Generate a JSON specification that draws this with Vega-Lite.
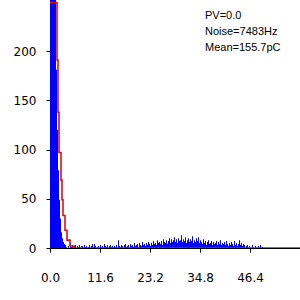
{
  "$schema": "https://vega.github.io/schema/vega-lite/v6.json",
  "width": 250,
  "height": 248,
  "autosize": {"type": "none"},
  "padding": {"left": 50, "top": 0, "right": 0, "bottom": 52},
  "background": "white",
  "config": {
    "view": {"stroke": null},
    "axis": {"grid": false, "labelFont": "DejaVu Sans", "labelFontSize": 12, "labelColor": "#000", "tickColor": "#000", "domainColor": "#000", "tickSize": 4, "title": null}
  },
  "datasets": {
    "hist": [
      {"x": 0, "count": 1000}, {"x": 0.232, "count": 900}, {"x": 0.464, "count": 700}, {"x": 0.696, "count": 500},
      {"x": 0.928, "count": 380}, {"x": 1.16, "count": 290}, {"x": 1.392, "count": 181}, {"x": 1.624, "count": 120},
      {"x": 1.856, "count": 79}, {"x": 2.088, "count": 49}, {"x": 2.32, "count": 30}, {"x": 2.552, "count": 16},
      {"x": 2.784, "count": 10}, {"x": 3.016, "count": 6}, {"x": 3.248, "count": 4}, {"x": 3.48, "count": 3},
      {"x": 3.712, "count": 1},
      {"x": 4.176, "count": 2}, {"x": 4.64, "count": 5}, {"x": 4.872, "count": 1}, {"x": 5.104, "count": 3},
      {"x": 5.568, "count": 2}, {"x": 5.8, "count": 3}, {"x": 6.264, "count": 2}, {"x": 6.496, "count": 1},
      {"x": 6.728, "count": 3}, {"x": 7.192, "count": 2}, {"x": 7.424, "count": 2}, {"x": 7.888, "count": 3},
      {"x": 8.12, "count": 1}, {"x": 8.352, "count": 2}, {"x": 8.816, "count": 1}, {"x": 9.048, "count": 3},
      {"x": 9.512, "count": 2}, {"x": 9.744, "count": 4}, {"x": 9.976, "count": 1}, {"x": 10.208, "count": 4},
      {"x": 10.44, "count": 2}, {"x": 10.904, "count": 1}, {"x": 11.136, "count": 2}, {"x": 11.6, "count": 3},
      {"x": 11.832, "count": 1}, {"x": 12.064, "count": 2}, {"x": 12.528, "count": 4}, {"x": 12.76, "count": 2},
      {"x": 12.992, "count": 1}, {"x": 13.224, "count": 3}, {"x": 13.688, "count": 2}, {"x": 13.92, "count": 3},
      {"x": 14.152, "count": 1}, {"x": 14.384, "count": 2}, {"x": 14.848, "count": 2}, {"x": 15.08, "count": 1},
      {"x": 15.312, "count": 3}, {"x": 15.776, "count": 8}, {"x": 16.008, "count": 2}, {"x": 16.24, "count": 1},
      {"x": 16.472, "count": 3}, {"x": 16.704, "count": 2}, {"x": 17.168, "count": 3}, {"x": 17.4, "count": 4},
      {"x": 17.632, "count": 1}, {"x": 17.864, "count": 2}, {"x": 18.096, "count": 3}, {"x": 18.56, "count": 4},
      {"x": 18.792, "count": 2}, {"x": 19.024, "count": 3}, {"x": 19.256, "count": 1}, {"x": 19.488, "count": 5},
      {"x": 19.72, "count": 2}, {"x": 19.952, "count": 3}, {"x": 20.184, "count": 4}, {"x": 20.416, "count": 1},
      {"x": 20.648, "count": 5}, {"x": 20.88, "count": 3}, {"x": 21.112, "count": 2}, {"x": 21.344, "count": 6},
      {"x": 21.576, "count": 3}, {"x": 21.808, "count": 4}, {"x": 22.04, "count": 2}, {"x": 22.272, "count": 5},
      {"x": 22.504, "count": 3}, {"x": 22.736, "count": 6}, {"x": 22.968, "count": 4}, {"x": 23.2, "count": 2},
      {"x": 23.432, "count": 5}, {"x": 23.664, "count": 3}, {"x": 23.896, "count": 7}, {"x": 24.128, "count": 4},
      {"x": 24.36, "count": 5}, {"x": 24.592, "count": 3}, {"x": 24.824, "count": 8}, {"x": 25.056, "count": 5},
      {"x": 25.288, "count": 6}, {"x": 25.52, "count": 4}, {"x": 25.752, "count": 7}, {"x": 25.984, "count": 3},
      {"x": 26.216, "count": 9}, {"x": 26.448, "count": 6}, {"x": 26.68, "count": 5}, {"x": 26.912, "count": 8},
      {"x": 27.144, "count": 4}, {"x": 27.376, "count": 7}, {"x": 27.608, "count": 10}, {"x": 27.84, "count": 5},
      {"x": 28.072, "count": 9}, {"x": 28.304, "count": 6}, {"x": 28.536, "count": 8}, {"x": 28.768, "count": 11},
      {"x": 29.0, "count": 6}, {"x": 29.232, "count": 9}, {"x": 29.464, "count": 5}, {"x": 29.696, "count": 10},
      {"x": 29.928, "count": 7}, {"x": 30.16, "count": 8}, {"x": 30.392, "count": 13}, {"x": 30.624, "count": 6},
      {"x": 30.856, "count": 9}, {"x": 31.088, "count": 7}, {"x": 31.32, "count": 11}, {"x": 31.552, "count": 5},
      {"x": 31.784, "count": 8}, {"x": 32.016, "count": 10}, {"x": 32.248, "count": 6}, {"x": 32.48, "count": 9},
      {"x": 32.712, "count": 7}, {"x": 32.944, "count": 12}, {"x": 33.176, "count": 5}, {"x": 33.408, "count": 8},
      {"x": 33.64, "count": 6}, {"x": 33.872, "count": 10}, {"x": 34.104, "count": 7}, {"x": 34.336, "count": 11},
      {"x": 34.568, "count": 5}, {"x": 34.8, "count": 8}, {"x": 35.032, "count": 6}, {"x": 35.264, "count": 4},
      {"x": 35.496, "count": 9}, {"x": 35.728, "count": 5}, {"x": 35.96, "count": 7}, {"x": 36.192, "count": 3},
      {"x": 36.424, "count": 6}, {"x": 36.656, "count": 8}, {"x": 36.888, "count": 4}, {"x": 37.12, "count": 5},
      {"x": 37.352, "count": 7}, {"x": 37.584, "count": 3}, {"x": 37.816, "count": 6}, {"x": 38.048, "count": 4},
      {"x": 38.28, "count": 5}, {"x": 38.512, "count": 7}, {"x": 38.744, "count": 3}, {"x": 38.976, "count": 6},
      {"x": 39.208, "count": 4}, {"x": 39.44, "count": 8}, {"x": 39.672, "count": 3}, {"x": 39.904, "count": 5},
      {"x": 40.136, "count": 4}, {"x": 40.368, "count": 6}, {"x": 40.6, "count": 3}, {"x": 40.832, "count": 7},
      {"x": 41.064, "count": 4}, {"x": 41.296, "count": 2}, {"x": 41.528, "count": 5}, {"x": 41.76, "count": 3},
      {"x": 41.992, "count": 6}, {"x": 42.224, "count": 4}, {"x": 42.456, "count": 2}, {"x": 42.688, "count": 7},
      {"x": 42.92, "count": 3}, {"x": 43.152, "count": 5}, {"x": 43.384, "count": 2}, {"x": 43.616, "count": 4},
      {"x": 43.848, "count": 8}, {"x": 44.08, "count": 3}, {"x": 44.312, "count": 5}, {"x": 44.544, "count": 2},
      {"x": 44.776, "count": 4}, {"x": 45.008, "count": 3}, {"x": 45.472, "count": 2}, {"x": 45.704, "count": 3},
      {"x": 46.168, "count": 2}, {"x": 46.864, "count": 3}, {"x": 47.56, "count": 2}, {"x": 48.256, "count": 2},
      {"x": 48.72, "count": 3}, {"x": 49.184, "count": 1}
    ],
    "fit": [
      {"x": 0, "y": 249.5}, {"x": 1.62, "y": 191}, {"x": 1.86, "y": 138}, {"x": 2.2, "y": 97},
      {"x": 2.55, "y": 69}, {"x": 2.78, "y": 49}, {"x": 3.02, "y": 33}, {"x": 3.48, "y": 18},
      {"x": 3.94, "y": 8}, {"x": 4.64, "y": 2}, {"x": 5.57, "y": 0}, {"x": 58, "y": 0}
    ],
    "notes": [
      {"label": "PV=0.0", "x": 36.0, "y": 235.5},
      {"label": "Noise=7483Hz", "x": 36.0, "y": 219.5},
      {"label": "Mean=155.7pC", "x": 36.0, "y": 203.5}
    ]
  },
  "layer": [
    {
      "data": {"name": "hist"},
      "mark": {"type": "bar", "color": "#0000ff", "opacity": 1, "width": 1, "xOffset": 0.5, "clip": true},
      "encoding": {
        "x": {"field": "x", "type": "quantitative",
              "scale": {"domain": [0, 58], "nice": false, "round": true, "zero": false, "padding": 0},
              "axis": {"values": [0, 11.6, 23.2, 34.8, 46.4], "format": ".1f", "labelPadding": 20, "domain": true, "labelFlush": false}},
        "y": {"field": "count", "type": "quantitative",
              "scale": {"domain": [0, 252], "nice": false},
              "axis": {"values": [0, 50, 100, 150, 200], "labelPadding": 10, "domain": false}}
      }
    },
    {
      "data": {"name": "fit"},
      "mark": {"type": "line", "interpolate": "step-after", "color": "#dd1111", "strokeWidth": 1.6, "clip": true},
      "encoding": {
        "x": {"field": "x", "type": "quantitative"},
        "y": {"field": "y", "type": "quantitative"}
      }
    },
    {
      "data": {"name": "notes"},
      "mark": {"type": "text", "align": "left", "baseline": "middle", "font": "Liberation Sans Narrow, Liberation Sans", "fontSize": 11, "color": "#000"},
      "encoding": {
        "x": {"field": "x", "type": "quantitative"},
        "y": {"field": "y", "type": "quantitative"},
        "text": {"field": "label"}
      }
    }
  ]
}
